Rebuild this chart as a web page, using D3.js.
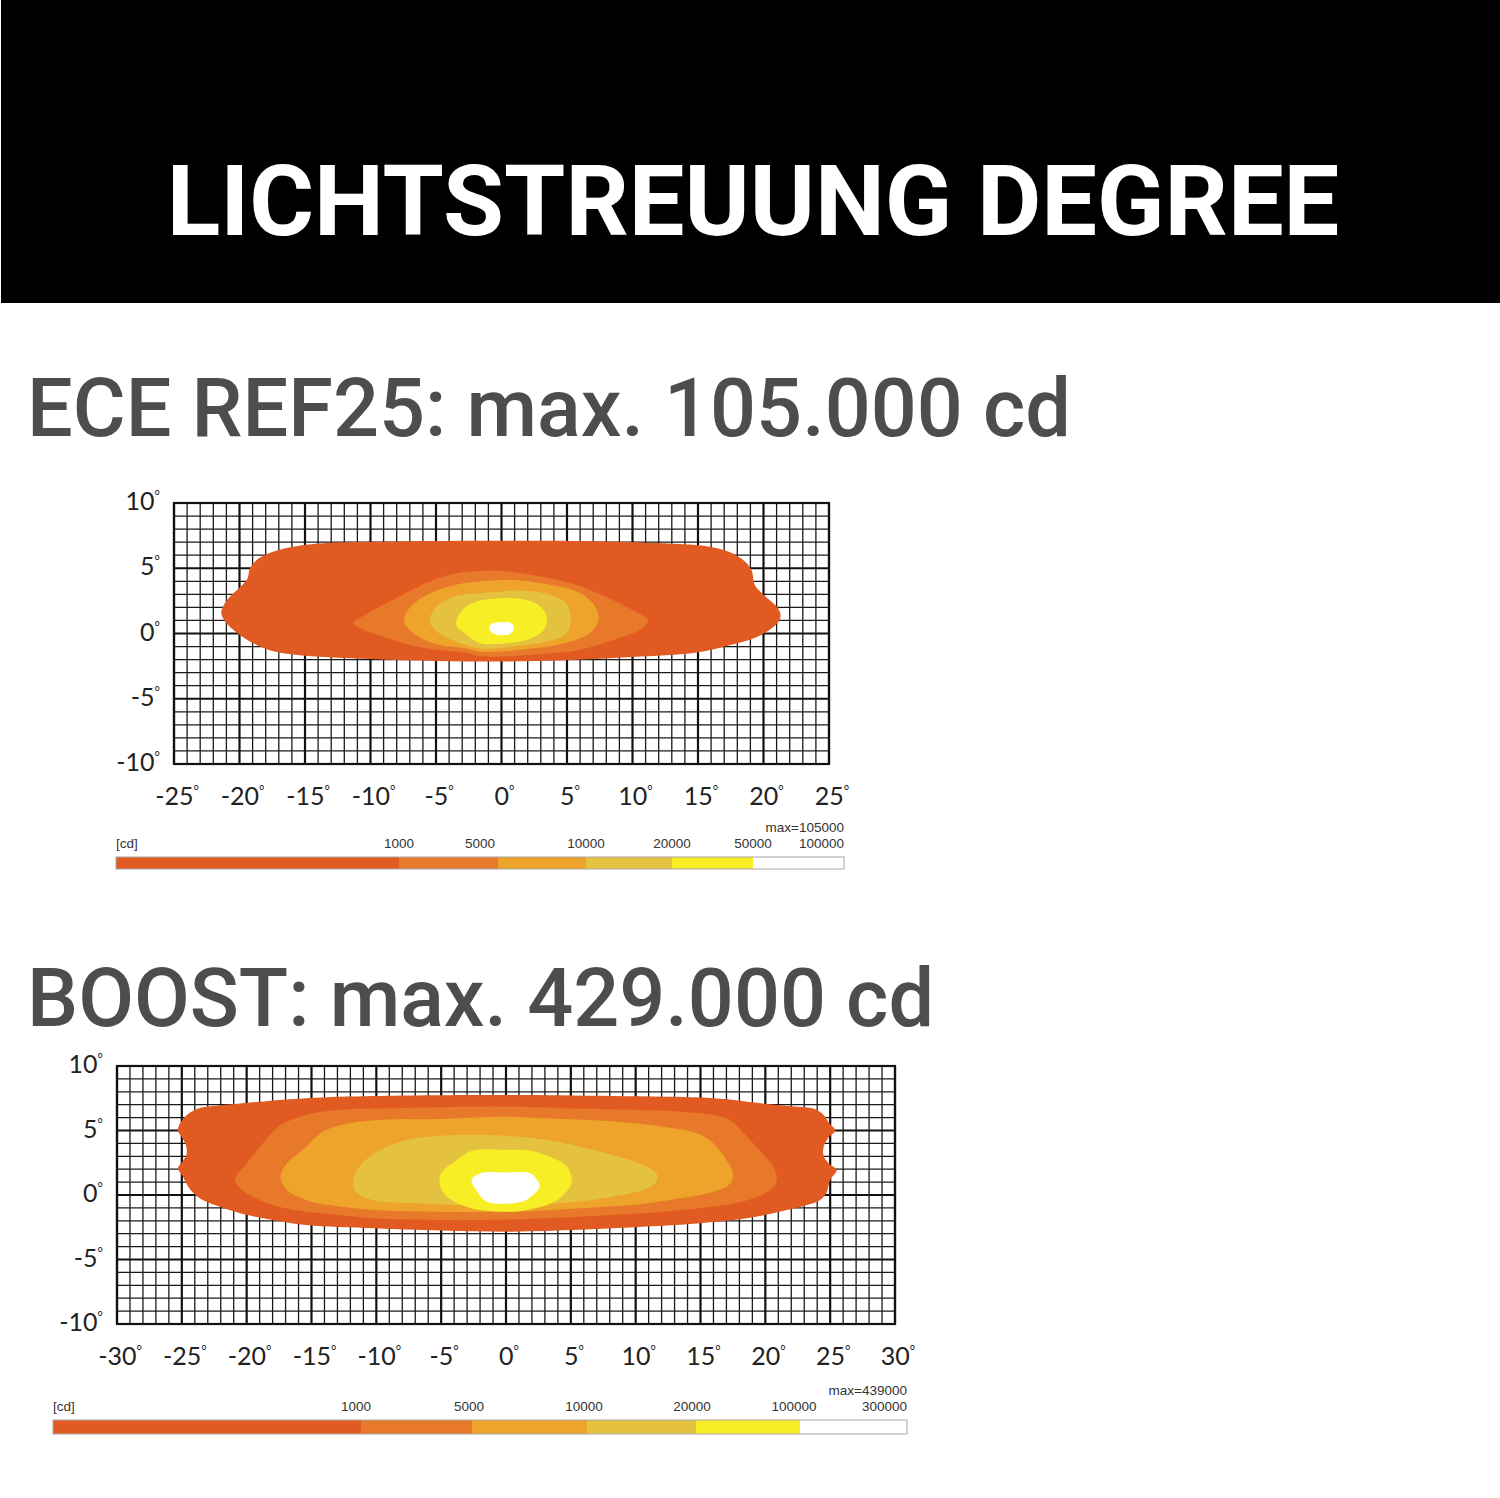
<!DOCTYPE html>
<html><head><meta charset="utf-8">
<script src="https://cdn.jsdelivr.net/npm/d3@7"></script>
<style>body{margin:0;background:#fff}svg{display:block}</style>
</head><body>
<svg id="c" width="1500" height="1498"></svg>
<script>
// ---------- data ----------
const titleText = "LICHTSTREUUNG DEGREE";
const chartTitles = ["ECE REF25: max. 105.000 cd", "BOOST: max. 429.000 cd"];
const yTicks = [-10, -5, 0, 5, 10];
const xTicksEce = [-25, -20, -15, -10, -5, 0, 5, 10, 15, 20, 25];
const xTicksBoost = [-30, -25, -20, -15, -10, -5, 0, 5, 10, 15, 20, 25, 30];
const levelColors = ["#e05a22", "#e8792a", "#eea32b", "#e4c13e", "#f8ee26", "#ffffff"];
const legendLabelsEce = ["1000", "5000", "10000", "20000", "50000", "100000"];
const legendLabelsBoost = ["1000", "5000", "10000", "20000", "100000", "300000"];
const legendMaxEce = "max=105000";
const legendMaxBoost = "max=439000";
const unitLabel = "[cd]";

// iso-candela contours, [horizontal deg, vertical deg]
const eceL0 = [[-21.4,1.6],[-21.0,2.5],[-20.0,3.5],[-19.4,4.2],[-19.2,5.0],[-18.6,5.7],[-17.5,6.25],[-15.9,6.65],[-13.9,6.9],[-8,7.05],[0,7.1],[8,7.05],[13.6,6.85],[15.5,6.7],[17.4,6.25],[18.6,5.5],[19.1,4.8],[19.35,3.7],[20.2,2.8],[21.1,1.95],[21.3,1.27],[20.9,0.64],[19.5,-0.26],[17.4,-0.9],[14.9,-1.45],[10,-1.8],[5,-2.05],[0,-2.15],[-5,-2.1],[-10,-1.95],[-15.4,-1.66],[-17.7,-1.28],[-19.7,-0.3],[-21,0.8]];
const eceL1 = [[-11.3,0.8],[-10.3,1.5],[-7.7,2.9],[-5.2,4.1],[-3.2,4.65],[-0.5,4.8],[1,4.7],[3.4,4.3],[5.5,3.8],[8,2.8],[10,1.8],[11.2,1.0],[10.5,0.25],[8.5,-0.5],[6,-1.25],[2.2,-1.65],[-1.6,-1.75],[-2.7,-1.5],[-6.5,-1.0],[-9,-0.25],[-10.8,0.4]];
const eceL2 = [[-7.4,1.3],[-6.7,2.3],[-5.2,3.2],[-3.2,3.8],[-0.1,4.1],[0.9,4.1],[3.4,3.8],[6,3.1],[7.2,2.0],[7.4,1.0],[6.7,0],[4.7,-0.77],[0.9,-1.3],[-1.65,-1.4],[-2.7,-1.15],[-5.2,-0.77],[-6.7,0],[-7.4,0.77]];
const eceL3 = [[-5.5,1.0],[-5,2.0],[-3.7,2.8],[-1.9,3.06],[-0.1,3.2],[0.9,3.3],[3.4,3.06],[4.95,2.3],[5.3,1.0],[4.95,0],[3.4,-0.64],[0.9,-1.0],[-1.65,-1.15],[-2.7,-0.9],[-4.3,-0.25],[-5.2,0.4]];
const eceL4 = [[-3.45,1.0],[-2.9,1.9],[-1.9,2.45],[-0.1,2.7],[0.9,2.7],[2.66,2.3],[3.45,1.3],[3.2,0.25],[1.9,-0.5],[-0.1,-0.78],[-1.65,-0.74],[-2.9,0.1],[-3.4,0.5]];
const eceL5 = [[-0.95,0.35],[-0.75,0.75],[0,0.87],[0.75,0.78],[0.95,0.35],[0.6,-0.05],[-0.5,-0.05]];

const boostL0 = [[-24.9,1.4],[-25.3,2.07],[-24.95,2.6],[-24.65,3.1],[-24.65,3.75],[-24.95,4.4],[-25.3,5.0],[-25.1,5.6],[-24.5,6.3],[-23.6,6.75],[-22.6,6.9],[-20.5,7.1],[-15.4,7.5],[-10.2,7.67],[0,7.75],[8.2,7.67],[16,7.5],[19.8,7.1],[22.4,6.85],[23.7,6.7],[24.5,6.2],[24.9,5.6],[25.4,5.0],[24.9,4.5],[24.5,3.75],[24.5,3.0],[24.9,2.45],[25.5,1.94],[25,1.16],[24.7,0.13],[24.2,-0.4],[23.2,-0.78],[21.1,-1.3],[18.6,-1.8],[14.7,-2.2],[10.8,-2.45],[5.7,-2.7],[0.5,-2.84],[-5,-2.75],[-10.2,-2.58],[-15.4,-2.33],[-18,-1.94],[-20.5,-1.42],[-22.1,-0.9],[-23.4,-0.39],[-24.1,0.13],[-24.6,0.8]];
const boostL1 = [[-20.9,1.3],[-20,2.45],[-18.5,4.3],[-17.4,5.4],[-15.4,6.2],[-12.8,6.6],[-7.7,6.75],[0,6.85],[5.7,6.7],[13.4,6.46],[16,6.2],[17.3,5.8],[18.6,4.5],[19.8,3.2],[20.6,2.2],[20.9,1.16],[20.4,0.4],[18.6,-0.4],[16,-0.9],[12.1,-1.3],[8.2,-1.55],[3.1,-1.8],[-2,-1.94],[-5.1,-1.94],[-10.2,-1.8],[-12.8,-1.55],[-15.4,-1.3],[-18,-0.78],[-20,0.13],[-20.8,0.9]];
const boostL2 = [[-17.4,1.42],[-16.9,2.45],[-15.4,3.75],[-14.3,4.8],[-12.8,5.4],[-10.2,5.8],[-5.1,5.9],[0,6.07],[3.1,5.94],[8.2,5.7],[12.1,5.3],[14.7,4.8],[16,4.0],[17,2.7],[17.5,1.7],[17.3,0.9],[16,0.26],[13.4,-0.26],[10.8,-0.65],[5.7,-1.03],[0.5,-1.3],[-5.1,-1.3],[-10.2,-1.16],[-12.8,-0.9],[-15.4,-0.4],[-16.9,0.4]];
const boostL3 = [[-11.8,1.16],[-11.3,2.2],[-10.2,3.2],[-7.7,4.26],[-3.8,4.65],[0,4.6],[3.1,4.26],[5.7,3.75],[8.2,3.1],[10.3,2.45],[11.6,1.68],[11.6,1.03],[10.6,0.4],[8.2,-0.13],[5.7,-0.5],[0.5,-0.8],[-2.6,-0.8],[-6.4,-0.65],[-10.2,-0.4],[-11.6,0.26]];
const boostL4 = [[-5.0,1.7],[-3.8,2.7],[-2.55,3.45],[0,3.5],[1.8,3.45],[3.5,2.9],[4.7,2.2],[5.06,0.93],[4.4,0],[3.6,-0.6],[1.06,-1.25],[-1,-1.25],[-2.8,-1.0],[-4.6,-0.1],[-5.1,0.8]];
const boostL5 = [[-2.65,1.16],[-1.9,1.7],[0,1.75],[1.83,1.7],[2.3,1.3],[2.6,0.65],[1.57,-0.39],[0.55,-0.64],[-1.5,-0.5],[-2.3,0.39]];

// ---------- drawing ----------
const svg = d3.select("#c");
svg.append("rect").attr("x", 0).attr("y", 0).attr("width", 1500).attr("height", 1498).attr("fill", "#fff");
svg.append("rect").attr("x", 1).attr("y", 0).attr("width", 1499).attr("height", 303).attr("fill", "#000");
svg.append("text").attr("x", 753).attr("y", 235).attr("text-anchor", "middle")
  .attr("font-family", "Roboto, 'Open Sans', sans-serif").attr("font-weight", 700)
  .attr("font-size", 99).attr("fill", "#fff").text(titleText);

const subY = [436, 1026];
chartTitles.forEach((t, i) => {
  svg.append("text").attr("x", 27).attr("y", subY[i])
    .attr("font-family", "Roboto, 'Open Sans', sans-serif").attr("font-weight", 500)
    .attr("font-size", 81).attr("fill", "#4d4d4d").text(t);
});

function degLabel(sel, v) {
  sel.text(null);
  sel.append("tspan").text(v);
  sel.append("tspan").attr("font-size", 13).attr("dy", -10).text("°");
}

function drawChart(cfg) {
  const g = svg.append("g");
  const x = d3.scaleLinear().domain(cfg.xDomain).range(cfg.xRange);
  const y = d3.scaleLinear().domain([-10, 10]).range(cfg.yRange);
  const xs = d3.range(cfg.xDomain[0], cfg.xDomain[1] + 1);
  const ys = d3.range(-10, 11);
  // minor grid
  g.append("g").selectAll("line").data(xs.filter(d => d % 5 !== 0)).join("line")
    .attr("x1", d => x(d)).attr("x2", d => x(d)).attr("y1", y(-10)).attr("y2", y(10))
    .attr("stroke", "#1a1a1a").attr("stroke-width", 1.3);
  g.append("g").selectAll("line").data(ys.filter(d => d % 5 !== 0)).join("line")
    .attr("y1", d => y(d)).attr("y2", d => y(d)).attr("x1", x(cfg.xDomain[0])).attr("x2", x(cfg.xDomain[1]))
    .attr("stroke", "#1a1a1a").attr("stroke-width", 1.3);
  // major grid
  g.append("g").selectAll("line").data(cfg.xTicks).join("line")
    .attr("x1", d => x(d)).attr("x2", d => x(d)).attr("y1", y(-10)).attr("y2", y(10))
    .attr("stroke", "#111").attr("stroke-width", 2.2);
  g.append("g").selectAll("line").data(yTicks).join("line")
    .attr("y1", d => y(d)).attr("y2", d => y(d)).attr("x1", x(cfg.xDomain[0])).attr("x2", x(cfg.xDomain[1]))
    .attr("stroke", "#111").attr("stroke-width", 2.2);
  // contours
  const line = d3.line().x(d => x(d[0])).y(d => y(d[1])).curve(d3.curveCatmullRomClosed.alpha(0.5));
  g.append("g").selectAll("path").data(cfg.levels).join("path")
    .attr("d", d => line(d)).attr("fill", (d, i) => levelColors[i]);
  // frame
  g.append("rect").attr("x", x(cfg.xDomain[0])).attr("y", y(10))
    .attr("width", x(cfg.xDomain[1]) - x(cfg.xDomain[0])).attr("height", y(-10) - y(10))
    .attr("fill", "none").attr("stroke", "#111").attr("stroke-width", 2.2);
  // tick labels
  const font = "Lato, 'Open Sans', sans-serif";
  g.append("g").selectAll("text").data(cfg.xTicks).join("text")
    .attr("x", d => x(d) + 3).attr("y", y(-10) + 41).attr("text-anchor", "middle")
    .attr("font-family", font).attr("font-size", 25).attr("fill", "#222")
    .each(function (d) { degLabel(d3.select(this), d); });
  g.append("g").selectAll("text").data(yTicks).join("text")
    .attr("x", x(cfg.xDomain[0]) - 14).attr("y", d => y(d) + 7).attr("text-anchor", "end")
    .attr("font-family", font).attr("font-size", 25).attr("fill", "#222")
    .each(function (d) { degLabel(d3.select(this), d); });
}

drawChart({ xDomain: [-25, 25], xRange: [174, 829], yRange: [764, 503], xTicks: xTicksEce,
  levels: [eceL0, eceL1, eceL2, eceL3, eceL4, eceL5] });
drawChart({ xDomain: [-30, 30], xRange: [117, 895], yRange: [1324, 1066], xTicks: xTicksBoost,
  levels: [boostL0, boostL1, boostL2, boostL3, boostL4, boostL5] });

function drawLegend(cfg) {
  const g = svg.append("g");
  const idx = d3.range(7);
  const pos = d3.scaleLinear().domain(idx).range(cfg.stops);
  const font = "'Liberation Sans', Arial, sans-serif";
  g.selectAll("rect.seg").data(d3.range(6)).join("rect").attr("class", "seg")
    .attr("x", i => pos(i)).attr("width", i => pos(i + 1) - pos(i))
    .attr("y", cfg.y).attr("height", cfg.h).attr("fill", i => levelColors[i]);
  g.append("rect").attr("x", pos(0)).attr("y", cfg.y).attr("width", pos(6) - pos(0)).attr("height", cfg.h)
    .attr("fill", "none").attr("stroke", "#a8a8a8").attr("stroke-width", 1);
  g.append("text").attr("x", pos(0)).attr("y", cfg.y - 9).attr("font-family", font)
    .attr("font-size", 13.5).attr("fill", "#333").text(unitLabel);
  g.selectAll("text.lab").data(cfg.labels).join("text").attr("class", "lab")
    .attr("x", (d, i) => i === 5 ? pos(6) : pos(i + 1) + cfg.labelShift[i])
    .attr("y", cfg.y - 9).attr("text-anchor", (d, i) => i === 5 ? "end" : "middle")
    .attr("font-family", font).attr("font-size", 13.5).attr("fill", "#333").text(d => d);
  g.append("text").attr("x", pos(6)).attr("y", cfg.y - 25).attr("text-anchor", "end")
    .attr("font-family", font).attr("font-size", 13.5).attr("fill", "#333").text(cfg.max);
}

drawLegend({ stops: [116, 399, 498, 586, 672, 753, 844], y: 857, h: 12, labels: legendLabelsEce,
  labelShift: [0, -18, 0, 0, 0], max: legendMaxEce });
drawLegend({ stops: [53, 361, 472, 587, 696, 800, 907], y: 1420, h: 14, labels: legendLabelsBoost,
  labelShift: [-5, -3, -3, -4, -6], max: legendMaxBoost });
</script>
</body></html>
